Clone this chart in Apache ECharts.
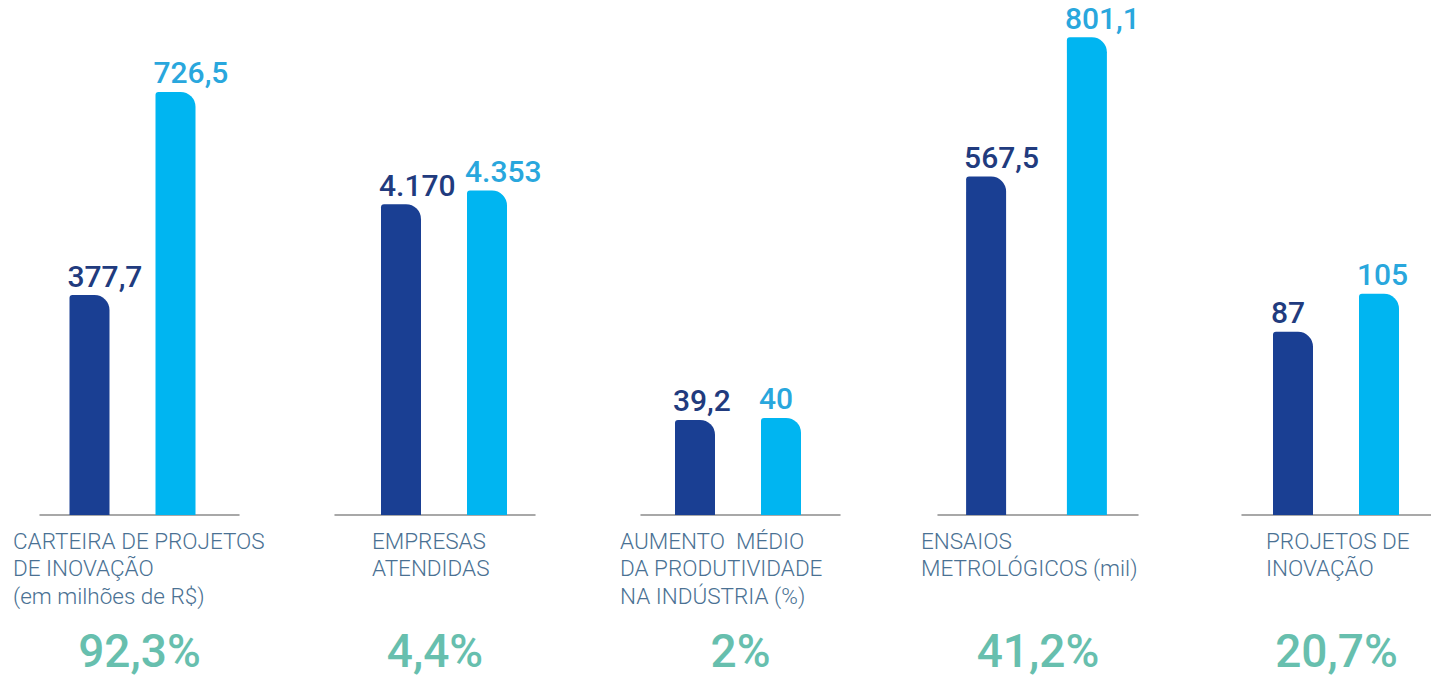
<!DOCTYPE html>
<html>
<head>
<meta charset="utf-8">
<script src="https://cdn.jsdelivr.net/npm/echarts@6/dist/echarts.min.js"></script>
<style>
  html, body { margin: 0; padding: 0; background: #fff; }
  #chart { width: 1431px; height: 677px; }
</style>
</head>
<body>
<div id="chart"></div>
<script>
// dados do infográfico
const categories = [
  "CARTEIRA DE PROJETOS\nDE INOVAÇÃO\n(em milhões de R$)",
  "EMPRESAS\nATENDIDAS",
  "AUMENTO  MÉDIO\nDA PRODUTIVIDADE\nNA INDÚSTRIA (%)",
  "ENSAIOS\nMETROLÓGICOS (mil)",
  "PROJETOS DE\nINOVAÇÃO",
];
const previous = [377.7, 4170, 39.2, 567.5, 87];
const current = [726.5, 4353, 40, 801.1, 105];
const growth = [92.3, 4.4, 2, 41.2, 20.7];

// layout de cada painel (linha de base, posição das barras, escala própria)
const panelLeft = [40, 335, 641, 938, 1242];
const panelWidth = [199, 200, 199, 200, 189];
const pairCenter = [132.5, 444, 738, 1036.5, 1341];
const panelMax = [850, 6640, 204, 830, 235];
const panelGap = ["115%", "115%", "115%", "152%", "115%"];
const textLeft = [13, 372, 620, 921, 1266];

const darkBlue = "#1a3f93";
const lightBlue = "#00b5f1";
const gridTop = 20;
const gridBottom = 162;

// formato pt-BR: 4170 -> 4.170, 377.7 -> 377,7
function fmt(v) {
  const parts = String(v).split(".");
  parts[0] = parts[0].replace(/\B(?=(\d{3})+(?!\d))/g, ".");
  return parts.join(",");
}

const chart = echarts.init(document.getElementById("chart"), null, { renderer: "svg" });

const grid = [];
const xAxis = [];
const yAxis = [];
const series = [];
const title = [];

categories.forEach((name, i) => {
  const g = grid.length;

  // grid só com a linha de base
  grid.push({ left: panelLeft[i], width: panelWidth[i], top: gridTop, bottom: gridBottom });
  xAxis.push({
    gridIndex: g,
    type: "category",
    data: [""],
    axisLine: { lineStyle: { color: "#8c8c8c", width: 1.5 } },
    axisTick: { show: false },
    axisLabel: { show: false },
  });
  yAxis.push({ gridIndex: g, type: "value", show: false, splitLine: { show: false } });

  // grid das barras
  grid.push({ left: pairCenter[i] - 100, width: 200, top: gridTop, bottom: gridBottom });
  xAxis.push({
    gridIndex: g + 1,
    type: "category",
    data: [name],
    axisLine: { show: false },
    axisTick: { show: false },
    axisLabel: { show: false },
  });
  yAxis.push({
    gridIndex: g + 1,
    type: "value",
    min: 0,
    max: panelMax[i],
    show: false,
    splitLine: { show: false },
  });

  [
    { data: previous, color: darkBlue, labelColor: "#213b7e" },
    { data: current, color: lightBlue, labelColor: "#29a7dd" },
  ].forEach((s) => {
    series.push({
      type: "bar",
      xAxisIndex: g + 1,
      yAxisIndex: g + 1,
      data: [s.data[i]],
      barWidth: 40,
      barGap: panelGap[i],
      silent: true,
      itemStyle: {
        color: s.color,
        borderRadius: [3, 15, 0, 0], // canto superior direito bem arredondado
      },
      label: {
        show: true,
        position: [-2, -4], // alinhado à esquerda da barra
        align: "left",
        verticalAlign: "bottom",
        color: s.labelColor,
        fontFamily: "Roboto",
        fontWeight: 500,
        fontSize: 30,
        formatter: (p) => fmt(p.value),
      },
    });
  });

  // nome do indicador
  title.push({
    text: name,
    left: textLeft[i],
    top: 527,
    padding: 0,
    textStyle: {
      color: "#4a7193",
      fontFamily: "Roboto",
      fontWeight: 300,
      fontSize: 22.5,
      lineHeight: 27.5,
    },
  });
  // crescimento
  title.push({
    text: fmt(growth[i]) + "%",
    left: panelLeft[i] + panelWidth[i] / 2,
    textAlign: "center",
    top: 628,
    padding: 0,
    textStyle: {
      color: "#67bfae",
      fontFamily: "Roboto",
      fontWeight: 500,
      fontSize: 46,
      lineHeight: 46,
    },
  });
});

chart.setOption({
  animation: false,
  title,
  grid,
  xAxis,
  yAxis,
  series,
});
</script>
</body>
</html>
